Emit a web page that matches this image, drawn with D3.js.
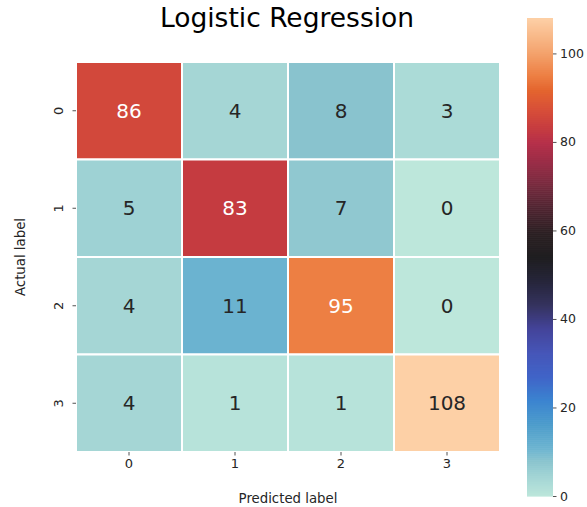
<!DOCTYPE html>
<html><head><meta charset="utf-8">
<script src="https://cdn.jsdelivr.net/npm/d3@7"></script>
<style>body{margin:0;background:#fff}svg{display:block}text{font-family:"DejaVu Sans",sans-serif}</style>
</head><body>
<svg id="c" width="587" height="507"></svg>
<script>
const title = "Logistic Regression";
const rowLabels = ["0","1","2","3"];
const colLabels = ["0","1","2","3"];
const matrix = [
  [86, 4, 8, 3],
  [5, 83, 7, 0],
  [4, 11, 95, 0],
  [4, 1, 1, 108]
];
const cbTicks = [0, 20, 40, 60, 80, 100];
const vmin = 0, vmax = 108;

// approximate seaborn "icefire"
const icefireStops = [
  [0.00,"#bde7db"],[0.04,"#a3d5d5"],[0.075,"#88c3ce"],[0.10,"#6cb4d0"],
  [0.15,"#4c9ccb"],[0.20,"#3b84d0"],[0.25,"#4064c8"],[0.30,"#4656b8"],
  [0.35,"#44449a"],[0.40,"#35335f"],[0.45,"#26253a"],[0.50,"#1f1e20"],
  [0.55,"#2b1f22"],[0.60,"#4d2430"],[0.65,"#762a3e"],[0.70,"#9b2d47"],
  [0.74,"#b6304a"],[0.77,"#c63c40"],[0.80,"#d44a3a"],[0.85,"#e4652f"],
  [0.88,"#ed7f43"],[0.93,"#f4a46f"],[1.00,"#fdd0a6"]
];
const cmap = d3.scaleLinear().domain(icefireStops.map(d=>d[0])).range(icefireStops.map(d=>d[1])).interpolate(d3.interpolateRgb).clamp(true);
const color = v => cmap((v - vmin) / (vmax - vmin));

const svg = d3.select("#c");
const L = 76, R = 500, T = 62, B = 452;
const x = d3.scaleBand().domain(colLabels).range([L, R]);
const y = d3.scaleBand().domain(rowLabels).range([T, B]);

const cells = [];
matrix.forEach((row, i) => row.forEach((v, j) => cells.push({r: rowLabels[i], c: colLabels[j], v})));

svg.append("g").selectAll("rect").data(cells).join("rect")
  .attr("x", d => x(d.c)).attr("y", d => y(d.r))
  .attr("width", x.bandwidth()).attr("height", y.bandwidth())
  .attr("fill", d => color(d.v)).attr("stroke", "#fff").attr("stroke-width", 2);

function lum(hex){const c=d3.rgb(hex);const f=u=>{u/=255;return u<=0.03928?u/12.92:Math.pow((u+0.055)/1.055,2.4)};return 0.2126*f(c.r)+0.7152*f(c.g)+0.0722*f(c.b);}
svg.append("g").selectAll("text").data(cells).join("text")
  .attr("x", d => x(d.c) + x.bandwidth()/2).attr("y", d => y(d.r) + y.bandwidth()/2)
  .attr("text-anchor","middle").attr("dominant-baseline","central")
  .attr("font-size", 20)
  .attr("fill", d => lum(color(d.v)) > 0.35 ? "#262626" : "#ffffff")
  .text(d => d.v);

// axes
const xAxis = d3.axisBottom(x).tickSize(3.5).tickPadding(3.5);
const gx = svg.append("g").attr("transform", `translate(0,${B})`).call(xAxis);
gx.select(".domain").remove();
gx.selectAll("line").attr("stroke","#262626").attr("stroke-width",0.8);
gx.selectAll("text").attr("font-size",13).attr("fill","#262626");

const yAxis = d3.axisLeft(y).tickSize(3.5).tickPadding(3.5);
const gy = svg.append("g").attr("transform", `translate(${L},0)`).call(yAxis);
gy.select(".domain").remove();
gy.selectAll("line").attr("stroke","#262626").attr("stroke-width",0.8);
gy.selectAll("text").attr("font-size",13).attr("fill","#262626")
  .attr("text-anchor","middle").attr("dy",null).attr("x",null)
  .attr("transform", "translate(-18,0) rotate(-90)").attr("dominant-baseline","central");

svg.append("text").attr("x",(L+R)/2).attr("y",503).attr("text-anchor","middle")
  .attr("font-size",13.3).attr("fill","#262626").text("Predicted label");
svg.append("text").attr("transform",`translate(25,${(T+B)/2}) rotate(-90)`).attr("text-anchor","middle")
  .attr("font-size",13.3).attr("fill","#262626").text("Actual label");

svg.append("text").attr("x",287).attr("y",27).attr("text-anchor","middle")
  .attr("font-size",26.5).attr("fill","#000").text(title);

// colorbar
const cbL = 527, cbW = 26, cbT = 18, cbB = 496;
const cy = d3.scaleLinear().domain([vmin, vmax]).range([cbB, cbT]);
const n = 240;
svg.append("g").selectAll("rect").data(d3.range(n)).join("rect")
  .attr("x", cbL).attr("width", cbW)
  .attr("y", i => cy(vmin + (i+1)*(vmax-vmin)/n))
  .attr("height", i => cy(vmin + i*(vmax-vmin)/n) - cy(vmin + (i+1)*(vmax-vmin)/n) + 0.6)
  .attr("fill", i => color(vmin + (i+0.5)*(vmax-vmin)/n));
const cAxis = d3.axisRight(cy).tickValues(cbTicks).tickSize(3.5).tickPadding(3.5);
const gc = svg.append("g").attr("transform",`translate(${cbL+cbW},0)`).call(cAxis);
gc.select(".domain").remove();
gc.selectAll("line").attr("stroke","#262626").attr("stroke-width",0.8);
gc.selectAll("text").attr("font-size",12.5).attr("fill","#262626");
</script>
</body></html>
